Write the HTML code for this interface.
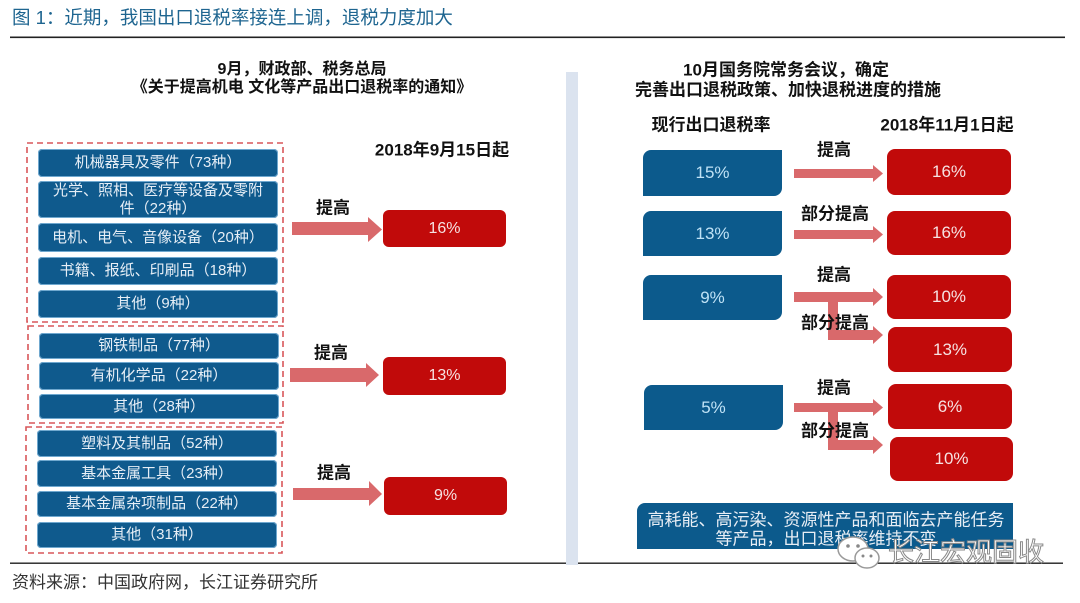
<!DOCTYPE html>
<html><head><meta charset="utf-8">
<style>
html,body{margin:0;padding:0;background:#fff;}
body{width:1080px;height:603px;position:relative;overflow:hidden;font-family:"Liberation Sans","Noto Sans CJK SC",sans-serif;}
.t{position:absolute;white-space:nowrap;transform:translate(-50%,-50%);line-height:1;}
.b{font-weight:bold;color:#111;}
.lb{position:absolute;background:#0f5a8d;color:#e6eef6;font-size:15px;display:flex;align-items:center;justify-content:center;text-align:center;line-height:18px;border-radius:4px;box-shadow:0 0 0 1px #6fa8cf inset;}
.rb{position:absolute;background:#c10a0a;color:#f6e2e2;font-size:16px;display:flex;align-items:center;justify-content:center;border-radius:6px;}
.bb{position:absolute;background:#0c5a8c;color:#bfe2f6;font-size:17px;display:flex;align-items:center;justify-content:center;border-radius:8px 0 8px 0;}
</style></head>
<body>
<svg width="1080" height="603" style="position:absolute;left:0;top:0">
  <rect x="10" y="36.5" width="1055" height="1.6" fill="#222"/>
  <rect x="10" y="562.5" width="1053" height="1.4" fill="#222"/>
  <rect x="566" y="72" width="12" height="493" fill="#dbe3ef"/>
  <g fill="none" stroke="#d8575a" stroke-width="1.6" stroke-dasharray="6 4">
    <rect x="27" y="143" width="256" height="179"/>
    <rect x="28" y="326" width="255" height="97"/>
    <rect x="26" y="427" width="256" height="126"/>
  </g>
  <g fill="#d9696b">
    <polygon points="292,222 368,222 368,217 382,229.5 368,242 368,235 292,235"/>
    <polygon points="290,368 366,368 366,363 379,375 366,387 366,382 290,382"/>
    <polygon points="293,488 369,488 369,481 382,494 369,506 369,500 293,500"/>
    <polygon points="794,169 873,169 873,165 883,173.5 873,182 873,178 794,178"/>
    <polygon points="794,230 873,230 873,226 883,234.5 873,243 873,239 794,239"/>
    <polygon points="794,292 873,292 873,288 883,297 873,306 873,302 794,302"/>
    <rect x="828" y="300" width="10" height="40"/>
    <polygon points="828,330 873,330 873,326 883,335 873,344 873,340 828,340"/>
    <polygon points="794,403 873,403 873,399 883,407.5 873,416 873,412 794,412"/>
    <rect x="828" y="410" width="10" height="40"/>
    <polygon points="828,440 873,440 873,436 883,445 873,454 873,450 828,450"/>
  </g>
</svg>

<div style="position:absolute;left:12px;top:7px;font-size:18.5px;color:#1e6590;white-space:nowrap;line-height:22px;">图 1：近期，我国出口退税率接连上调，退税力度加大</div>

<div class="t b" style="left:302px;top:70px;font-size:16px;">9月，财政部、税务总局</div>
<div class="t b" style="left:302px;top:88px;font-size:16px;">《关于提高机电 文化等产品出口退税率的通知》</div>
<div class="t b" style="left:442px;top:150px;font-size:17px;">2018年9月15日起</div>

<div class="lb" style="left:38px;top:149px;width:240px;height:28px;">机械器具及零件（73种）</div>
<div class="lb" style="left:38px;top:181px;width:240px;height:37px;">光学、照相、医疗等设备及零附<br>件（22种）</div>
<div class="lb" style="left:38px;top:223px;width:240px;height:29px;">电机、电气、音像设备（20种）</div>
<div class="lb" style="left:38px;top:257px;width:240px;height:28px;">书籍、报纸、印刷品（18种）</div>
<div class="lb" style="left:38px;top:290px;width:240px;height:28px;">其他（9种）</div>
<div class="lb" style="left:39px;top:333px;width:240px;height:26px;">钢铁制品（77种）</div>
<div class="lb" style="left:39px;top:362px;width:240px;height:28px;">有机化学品（22种）</div>
<div class="lb" style="left:39px;top:394px;width:240px;height:25px;">其他（28种）</div>
<div class="lb" style="left:37px;top:430px;width:240px;height:27px;">塑料及其制品（52种）</div>
<div class="lb" style="left:37px;top:460px;width:240px;height:27px;">基本金属工具（23种）</div>
<div class="lb" style="left:37px;top:491px;width:240px;height:26px;">基本金属杂项制品（22种）</div>
<div class="lb" style="left:37px;top:522px;width:240px;height:26px;">其他（31种）</div>

<div class="t b" style="left:333px;top:208px;font-size:17px;">提高</div>
<div class="rb" style="left:383px;top:210px;width:123px;height:37px;">16%</div>
<div class="t b" style="left:331px;top:353px;font-size:17px;">提高</div>
<div class="rb" style="left:383px;top:357px;width:123px;height:38px;">13%</div>
<div class="t b" style="left:334px;top:473px;font-size:17px;">提高</div>
<div class="rb" style="left:384px;top:477px;width:123px;height:38px;">9%</div>

<div class="t b" style="left:786px;top:70px;font-size:17px;">10月国务院常务会议，确定</div>
<div class="t b" style="left:788px;top:90px;font-size:17px;">完善出口退税政策、加快退税进度的措施</div>
<div class="t b" style="left:711px;top:125px;font-size:17px;">现行出口退税率</div>
<div class="t b" style="left:947px;top:125px;font-size:17px;">2018年11月1日起</div>

<div class="bb" style="left:643px;top:150px;width:139px;height:46px;">15%</div>
<div class="bb" style="left:643px;top:211px;width:139px;height:45px;">13%</div>
<div class="bb" style="left:643px;top:275px;width:139px;height:45px;">9%</div>
<div class="bb" style="left:644px;top:385px;width:139px;height:45px;">5%</div>

<div class="rb" style="left:887px;top:149px;width:124px;height:46px;font-size:17px;border-radius:8px;">16%</div>
<div class="rb" style="left:887px;top:211px;width:124px;height:44px;font-size:17px;border-radius:8px;">16%</div>
<div class="rb" style="left:887px;top:275px;width:124px;height:44px;font-size:17px;border-radius:8px;">10%</div>
<div class="rb" style="left:888px;top:327px;width:124px;height:45px;font-size:17px;border-radius:8px;">13%</div>
<div class="rb" style="left:888px;top:384px;width:124px;height:45px;font-size:17px;border-radius:8px;">6%</div>
<div class="rb" style="left:890px;top:437px;width:123px;height:44px;font-size:17px;border-radius:8px;">10%</div>

<div class="t b" style="left:834px;top:150px;font-size:17px;">提高</div>
<div class="t b" style="left:835px;top:214px;font-size:17px;">部分提高</div>
<div class="t b" style="left:834px;top:275px;font-size:17px;">提高</div>
<div class="t b" style="left:835px;top:323px;font-size:17px;">部分提高</div>
<div class="t b" style="left:834px;top:388px;font-size:17px;">提高</div>
<div class="t b" style="left:835px;top:431px;font-size:17px;">部分提高</div>

<div style="position:absolute;left:637px;top:503px;width:376px;height:46px;background:#0c5a8c;border-radius:8px 0 0 0;"></div>
<div class="t" style="left:826px;top:520px;font-size:17px;color:#e8eef5;">高耗能、高污染、资源性产品和面临去产能任务</div>
<div class="t" style="left:826px;top:539px;font-size:17px;color:#e8eef5;">等产品，出口退税率维持不变</div>

<svg width="1080" height="603" style="position:absolute;left:0;top:0">
  <ellipse cx="853" cy="549" rx="15" ry="12" fill="#fff" stroke="#9a9a9a" stroke-width="1.5"/>
  <ellipse cx="867" cy="558" rx="12" ry="10" fill="#fff" stroke="#9a9a9a" stroke-width="1.5"/>
  <circle cx="848" cy="546" r="1.8" fill="#888"/><circle cx="858" cy="546" r="1.8" fill="#888"/>
  <circle cx="863" cy="556" r="1.5" fill="#888"/><circle cx="871" cy="556" r="1.5" fill="#888"/>
</svg>
<div class="t" style="left:966px;top:552px;font-size:26px;color:#fff;-webkit-text-stroke:1px #8a8a8a;">长江宏观固收</div>

<div style="position:absolute;left:12px;top:573px;font-size:17px;color:#333;white-space:nowrap;line-height:20px;">资料来源：中国政府网，长江证券研究所</div>
</body></html>
